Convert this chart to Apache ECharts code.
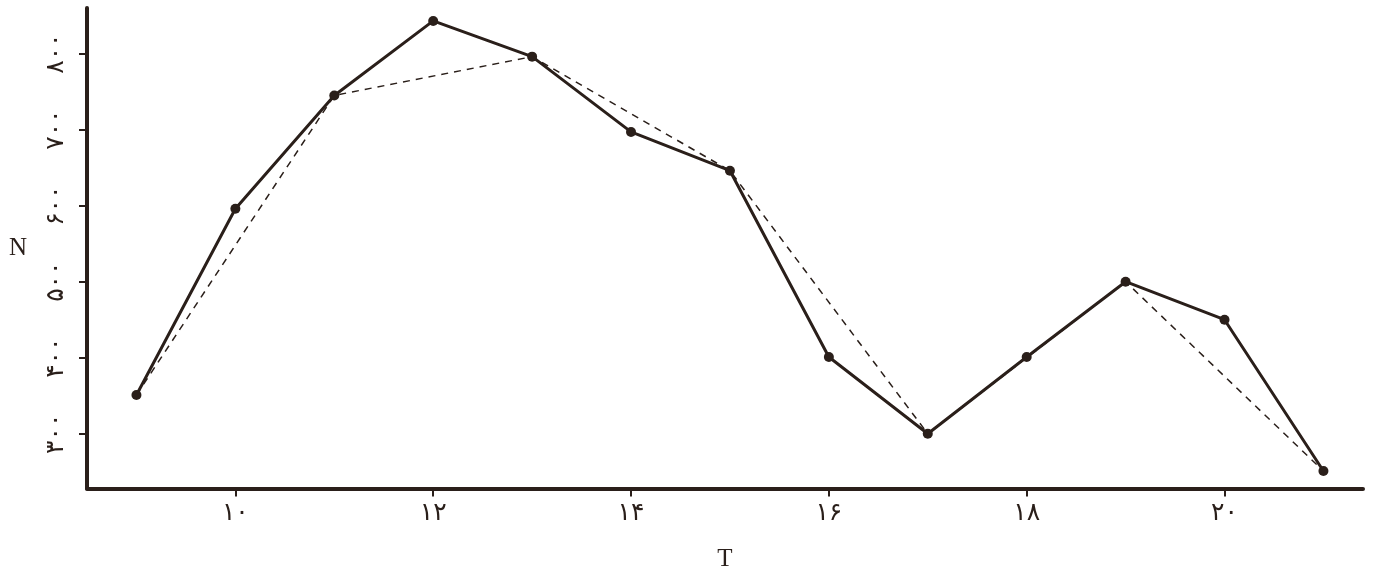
<!DOCTYPE html>
<html>
<head>
<meta charset="utf-8">
<script src="https://cdn.jsdelivr.net/npm/echarts@6/dist/echarts.min.js"></script>
<style>
html,body{margin:0;padding:0;background:#fff;}
#c{width:1383px;height:576px;}
</style>
</head>
<body>
<div id="c"></div>
<script>
const tValues = [9, 10, 11, 12, 13, 14, 15, 16, 17, 18, 19, 20, 21];
const nValues = [351, 596, 745, 843, 796, 697, 646, 401, 300, 401, 500, 450, 251];
const tDashed = [9, 11, 13, 15, 17, 19, 21];
const nDashed = [351, 745, 796, 646, 300, 500, 251];
const xTicks = [10, 12, 14, 16, 18, 20];
const yTicks = [300, 400, 500, 600, 700, 800];

const ink = '#2a1f1a';
const fa = s => String(s).replace(/[0-9]/g, d => '۰۱۲۳۴۵۶۷۸۹'[+d]);

const chart = echarts.init(document.getElementById('c'));
chart.setOption({
  animation: false,
  backgroundColor: '#fff',
  grid: { left: 87, right: 20, top: 8, bottom: 87.5, containLabel: false, outerBoundsMode: 'none' },
  xAxis: {
    type: 'value', min: 8.5, max: 21.4,
    name: 'T', nameLocation: 'middle', nameGap: 58,
    nameTextStyle: { fontFamily: 'Liberation Serif', fontSize: 25, color: ink },
    splitLine: { show: false },
    axisLine: { show: true, onZero: false, lineStyle: { color: ink, width: 4 } },
    axisTick: { show: true, customValues: xTicks, length: 8, lineStyle: { color: ink, width: 2 } },
    axisLabel: { customValues: xTicks, formatter: v => fa(v), fontFamily: 'DejaVu Sans', fontSize: 25, color: ink, margin: 12 }
  },
  yAxis: {
    type: 'value', min: 228, max: 860,
    name: 'N', nameLocation: 'middle', nameGap: 60, nameRotate: 0,
    nameTextStyle: { fontFamily: 'Liberation Serif', fontSize: 25, color: ink },
    splitLine: { show: false },
    axisLine: { show: true, onZero: false, lineStyle: { color: ink, width: 4 } },
    axisTick: { show: true, customValues: yTicks, length: 8, lineStyle: { color: ink, width: 2 } },
    axisLabel: { customValues: yTicks, rotate: 90, formatter: v => fa(v), fontFamily: 'DejaVu Sans', fontSize: 25, color: ink, margin: 18 }
  },
  series: [
    {
      type: 'line',
      data: tDashed.map((t, i) => [t, nDashed[i]]),
      showSymbol: false, symbol: 'none',
      lineStyle: { color: ink, width: 1.5, type: [7, 6] },
      z: 1
    },
    {
      type: 'line',
      data: tValues.map((t, i) => [t, nValues[i]]),
      symbol: 'circle', symbolSize: 10,
      itemStyle: { color: ink },
      lineStyle: { color: ink, width: 3 },
      z: 2
    }
  ]
});
</script>
</body>
</html>
